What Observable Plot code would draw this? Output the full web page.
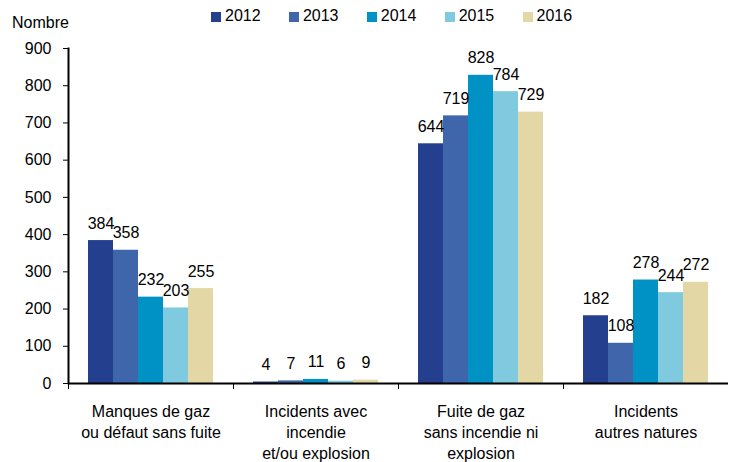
<!DOCTYPE html>
<html>
<head>
<meta charset="utf-8">
<script src="https://cdn.jsdelivr.net/npm/d3@7"></script>
<script src="https://cdn.jsdelivr.net/npm/@observablehq/plot@0.6"></script>
<style>
  body { margin: 0; background: #fff; }
  #wrap { position: relative; width: 729px; height: 462px; font-family: "Liberation Sans", Arial, sans-serif; color: #000; }
  #ylabel { position: absolute; left: 12px; top: 15px; font-size: 16px; line-height: 16px; }
  #legend { position: absolute; left: 211px; top: 8px; display: flex; }
  .item { width: 77.9px; display: flex; align-items: flex-start; font-size: 16px; line-height: 16px; }
  .sw { width: 10px; height: 10px; margin-top: 4px; margin-right: 4px; flex: none; }
</style>
</head>
<body>
<div id="wrap">
  <div id="chart"></div>
  <div id="ylabel"></div>
  <div id="legend"></div>
</div>
<script>
const categories = [
  "Manques de gaz\nou défaut sans fuite",
  "Incidents avec\nincendie\net/ou explosion",
  "Fuite de gaz\nsans incendie ni\nexplosion",
  "Incidents\nautres natures"
];
const years = ["2012", "2013", "2014", "2015", "2016"];
const values2012 = [384, 4, 644, 182];
const values2013 = [358, 7, 719, 108];
const values2014 = [232, 11, 828, 278];
const values2015 = [203, 6, 784, 244];
const values2016 = [255, 9, 729, 272];
const colors = ["#253f8f", "#3f65ab", "#0092c5", "#7fcadf", "#e3d7a6"];
const yTicks = [0, 100, 200, 300, 400, 500, 600, 700, 800, 900];
const yLabel = "Nombre";

const series = [values2012, values2013, values2014, values2015, values2016];
const data = categories.flatMap((c, i) => years.map((y, j) => ({category: c, year: y, value: series[j][i]})));

const tickShape = {draw(ctx, l) { ctx.moveTo(0, 0); ctx.lineTo(0, -l); }};

const chart = Plot.plot({
  width: 729,
  height: 462,
  marginLeft: 66,
  marginRight: 0,
  marginTop: 48,
  marginBottom: 79,
  style: {fontFamily: "Liberation Sans, Arial, sans-serif", fontSize: "16px", color: "#000", background: "#fff", overflow: "visible"},
  fx: {domain: categories, padding: 0, axis: null},
  x: {domain: years, paddingInner: 0, paddingOuter: 0.72, axis: null},
  y: {domain: [0, 900], axis: null},
  color: {domain: years, range: colors},
  marks: [
    Plot.barY(data, {fx: "category", x: "year", y: "value", fill: "year", inset: 0}),
    Plot.text(data, {fx: "category", x: "year", y: "value", text: d => String(d.value), lineAnchor: "bottom", dy: -12, fontSize: 16, fill: "#000"}),
    Plot.axisY({ticks: yTicks, tickSize: 5, tickPadding: 12, label: null, fontSize: 16, strokeWidth: 1}),
    Plot.frame({anchor: "left", facetAnchor: "left", strokeWidth: 2}),
    Plot.ruleY([0], {strokeWidth: 2}),
    Plot.vector(categories, {fx: d => d, frameAnchor: "bottom-left", length: 5, rotate: 180, anchor: "start", shape: tickShape, stroke: "#000", strokeWidth: 1}),
    Plot.text(categories, {fx: d => d, text: d => d, frameAnchor: "bottom", lineAnchor: "top", dy: 18, lineHeight: 1.33, fontSize: 16, fill: "#000"})
  ]
});
document.getElementById("chart").appendChild(chart);

document.getElementById("ylabel").textContent = yLabel;
const legend = document.getElementById("legend");
years.forEach((y, i) => {
  const item = document.createElement("div");
  item.className = "item";
  const sw = document.createElement("span");
  sw.className = "sw";
  sw.style.background = colors[i];
  const t = document.createElement("span");
  t.textContent = y;
  item.appendChild(sw);
  item.appendChild(t);
  legend.appendChild(item);
});
</script>
</body>
</html>
